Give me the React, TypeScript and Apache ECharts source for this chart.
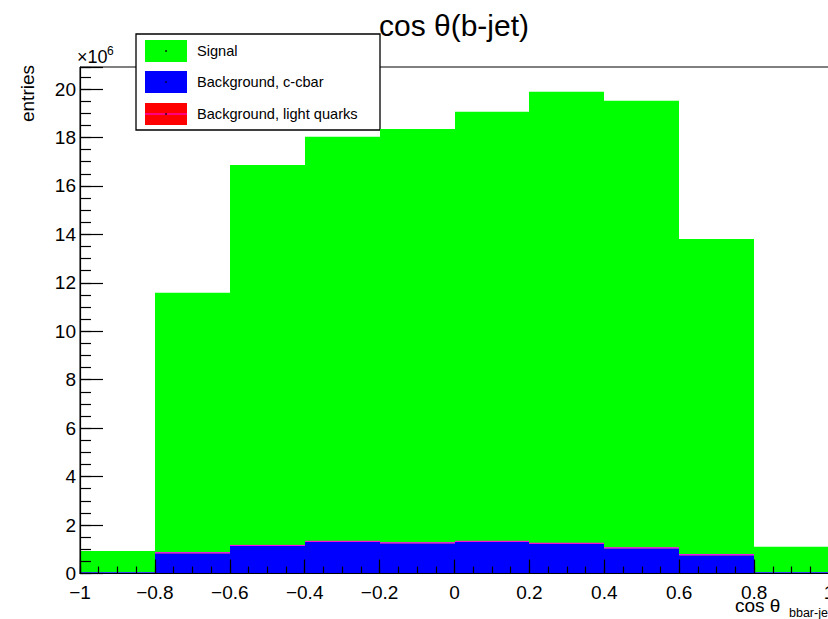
import React, { useEffect, useRef } from 'react';
import * as echarts from 'echarts';

// Histogram bins in cos theta
const binEdges = [-1, -0.8, -0.6, -0.4, -0.2, 0, 0.2, 0.4, 0.6, 0.8, 1];
// Entries per bin, in units of 10^6
const signal = [0.88, 10.73, 15.7, 16.7, 17.08, 17.73, 18.64, 18.46, 13.03, 1.055];
const ccbar = [0.05, 0.84, 1.14, 1.3, 1.25, 1.3, 1.22, 1.04, 0.75, 0.05];
const lightQuarks = [0.002, 0.02, 0.02, 0.03, 0.02, 0.03, 0.03, 0.02, 0.03, 0.002];

const seriesNames = ['Signal', 'Background, c-cbar', 'Background, light quarks'];
const titleText = 'cos θ(b-jet)';
const yTitle = 'entries';
const yScaleText = '×10';
const yScaleExp = '6';
const xTitleMain = 'cos θ';
const xTitleSub = 'bbar-jet';

const FONT = 'Liberation Sans, Arial, Helvetica, sans-serif';

function stackData(values: number[], base: number[]) {
  return values.map((v, i) => [binEdges[i], binEdges[i + 1], base[i], base[i] + v]);
}

function makeRender(fill: string, topLine?: string, minForLine = 0) {
  return (params: any, api: any) => {
    const x0 = api.value(0);
    const x1 = api.value(1);
    const y0 = api.value(2);
    const y1 = api.value(3);
    const p0 = api.coord([x0, y0]);
    const p1 = api.coord([x1, y1]);
    const left = Math.round(p0[0]);
    const right = Math.round(p1[0]);
    const bottom = p0[1];
    const top = p1[1];
    const rect = {
      type: 'rect',
      shape: { x: left, y: top, width: right - left, height: bottom - top },
      style: { fill },
    };
    if (!topLine || y1 - y0 < minForLine) return rect;
    return {
      type: 'group',
      children: [
        rect,
        {
          type: 'line',
          shape: { x1: left, y1: top, x2: right, y2: top },
          style: { stroke: topLine, lineWidth: 1 },
        },
      ],
    };
  };
}

const zeros = binEdges.slice(1).map(() => 0);
const baseLight = ccbar.slice();
const baseSignal = ccbar.map((v, i) => v + lightQuarks[i]);

const YMAX = 20.91;

const fmtX = (v: number) => {
  const r = Math.round(v * 10) / 10;
  return String(r).replace('-', '\u2212');
};
const fmtY = (v: number) => (Math.abs(v - Math.round(v)) < 1e-6 ? String(Math.round(v)) : '');

const axisBase = {
  type: 'value',
  z: 5,
  splitLine: { show: false },
};

const option: any = {
  animation: false,
  backgroundColor: '#fff',
  textStyle: { fontFamily: FONT },
  grid: {
    left: 80,
    top: 67,
    width: 749,
    height: 506.5,
    show: true,
    borderColor: '#000',
    borderWidth: 1,
    backgroundColor: 'transparent',
    containLabel: false,
    outerBoundsMode: 'none',
  },
  xAxis: [
    {
      ...axisBase,
      min: -1,
      max: 1,
      interval: 0.2,
      position: 'bottom',
      axisLine: { show: true, onZero: false, lineStyle: { color: '#000', width: 1.2 } },
      axisTick: { show: true, inside: true, length: 14, lineStyle: { color: '#000', width: 1.2 } },
      axisLabel: {
        show: true,
        margin: 9,
        fontSize: 19,
        color: '#000',
        fontFamily: FONT,
        formatter: fmtX,
        hideOverlap: false,
      },
    },
    {
      ...axisBase,
      min: -1,
      max: 1,
      interval: 0.05,
      position: 'bottom',
      axisLine: { show: false, onZero: false },
      axisTick: { show: true, inside: true, length: 7, lineStyle: { color: '#000', width: 1.2 } },
      axisLabel: { show: false },
    },
  ],
  yAxis: [
    {
      ...axisBase,
      min: 0,
      max: YMAX,
      interval: 2,
      position: 'left',
      axisLine: { show: true, onZero: false, lineStyle: { color: '#000', width: 1.2 } },
      axisTick: { show: true, inside: true, length: 23, lineStyle: { color: '#000', width: 1.2 } },
      axisLabel: { show: true, margin: 4, fontSize: 19, color: '#000', fontFamily: FONT, formatter: fmtY },
    },
    {
      ...axisBase,
      min: 0,
      max: YMAX,
      interval: 0.5,
      position: 'left',
      axisLine: { show: false, onZero: false },
      axisTick: { show: true, inside: true, length: 11, lineStyle: { color: '#000', width: 1.2 } },
      axisLabel: { show: false },
    },
  ],
  series: [
    {
      name: seriesNames[0],
      type: 'custom',
      xAxisIndex: 0,
      yAxisIndex: 0,
      z: 2,
      encode: { x: [0, 1], y: [2, 3] },
      renderItem: makeRender('#00ff00'),
      data: stackData(signal, baseSignal),
    },
    {
      name: seriesNames[1],
      type: 'custom',
      xAxisIndex: 0,
      yAxisIndex: 0,
      z: 3,
      encode: { x: [0, 1], y: [2, 3] },
      renderItem: makeRender('#0000ff'),
      data: stackData(ccbar, zeros),
    },
    {
      name: seriesNames[2],
      type: 'custom',
      xAxisIndex: 0,
      yAxisIndex: 0,
      z: 4,
      encode: { x: [0, 1], y: [2, 3] },
      renderItem: makeRender('#ff0000', '#ff00ff', 0.01),
      data: stackData(lightQuarks, baseLight),
    },
  ],
  graphic: [
    // title
    {
      type: 'text',
      x: 454,
      y: 25,
      z: 20,
      style: {
        text: titleText,
        fontSize: 30,
        fontFamily: FONT,
        fill: '#000',
        align: 'center',
        verticalAlign: 'middle',
      },
    },
    // y axis title
    {
      type: 'text',
      x: 27,
      y: 65,
      rotation: Math.PI / 2,
      z: 20,
      style: {
        text: yTitle,
        fontSize: 19,
        fontFamily: FONT,
        fill: '#000',
        align: 'right',
        verticalAlign: 'middle',
      },
    },
    // x10^6
    {
      type: 'text',
      x: 77,
      y: 66,
      z: 20,
      style: { text: yScaleText, fontSize: 18, fontFamily: FONT, fill: '#000', align: 'left', verticalAlign: 'bottom' },
    },
    {
      type: 'text',
      x: 107,
      y: 45,
      z: 20,
      style: { text: yScaleExp, fontSize: 12, fontFamily: FONT, fill: '#000', align: 'left', verticalAlign: 'top' },
    },
    // x axis title
    {
      type: 'text',
      x: 735,
      y: 615,
      z: 20,
      style: { text: xTitleMain, fontSize: 19, fontFamily: FONT, fill: '#000', align: 'left', verticalAlign: 'bottom' },
    },
    {
      type: 'text',
      x: 789,
      y: 606,
      z: 20,
      style: { text: xTitleSub, fontSize: 12.5, fontFamily: FONT, fill: '#000', align: 'left', verticalAlign: 'top' },
    },
    // legend
    {
      type: 'group',
      z: 30,
      children: [
        {
          type: 'rect',
          shape: { x: 136, y: 34, width: 244, height: 96 },
          style: { fill: '#fff', stroke: '#000', lineWidth: 1.3 },
        },
        { type: 'rect', shape: { x: 145, y: 40, width: 42, height: 22 }, style: { fill: '#00ff00' } },
        { type: 'rect', shape: { x: 145, y: 71, width: 42, height: 22 }, style: { fill: '#0000ff' } },
        { type: 'rect', shape: { x: 145, y: 103, width: 42, height: 22 }, style: { fill: '#ff0000' } },
        { type: 'line', shape: { x1: 145, y1: 114, x2: 187, y2: 114 }, style: { stroke: '#ff00ff', lineWidth: 1 } },
        { type: 'circle', shape: { cx: 166, cy: 51, r: 0.8 }, style: { fill: '#000' } },
        { type: 'circle', shape: { cx: 166, cy: 82, r: 0.8 }, style: { fill: '#000' } },
        { type: 'circle', shape: { cx: 166, cy: 114, r: 0.8 }, style: { fill: '#000' } },
        {
          type: 'text',
          x: 197,
          y: 51,
          style: { text: seriesNames[0], fontSize: 14.6, fontFamily: FONT, fill: '#000', verticalAlign: 'middle' },
        },
        {
          type: 'text',
          x: 197,
          y: 82,
          style: { text: seriesNames[1], fontSize: 14.6, fontFamily: FONT, fill: '#000', verticalAlign: 'middle' },
        },
        {
          type: 'text',
          x: 197,
          y: 114,
          style: { text: seriesNames[2], fontSize: 14.6, fontFamily: FONT, fill: '#000', verticalAlign: 'middle' },
        },
      ],
    },
  ],
};

export default function App() {
  const ref = useRef<HTMLDivElement>(null);
  useEffect(() => {
    if (!ref.current) return;
    const chart = echarts.init(ref.current, null, { renderer: 'svg' });
    chart.setOption(option);
    return () => chart.dispose();
  }, []);
  return (
    <div
      ref={ref}
      style={{ position: 'fixed', left: 0, top: 0, width: 828, height: 619, background: '#fff' }}
    />
  );
}
